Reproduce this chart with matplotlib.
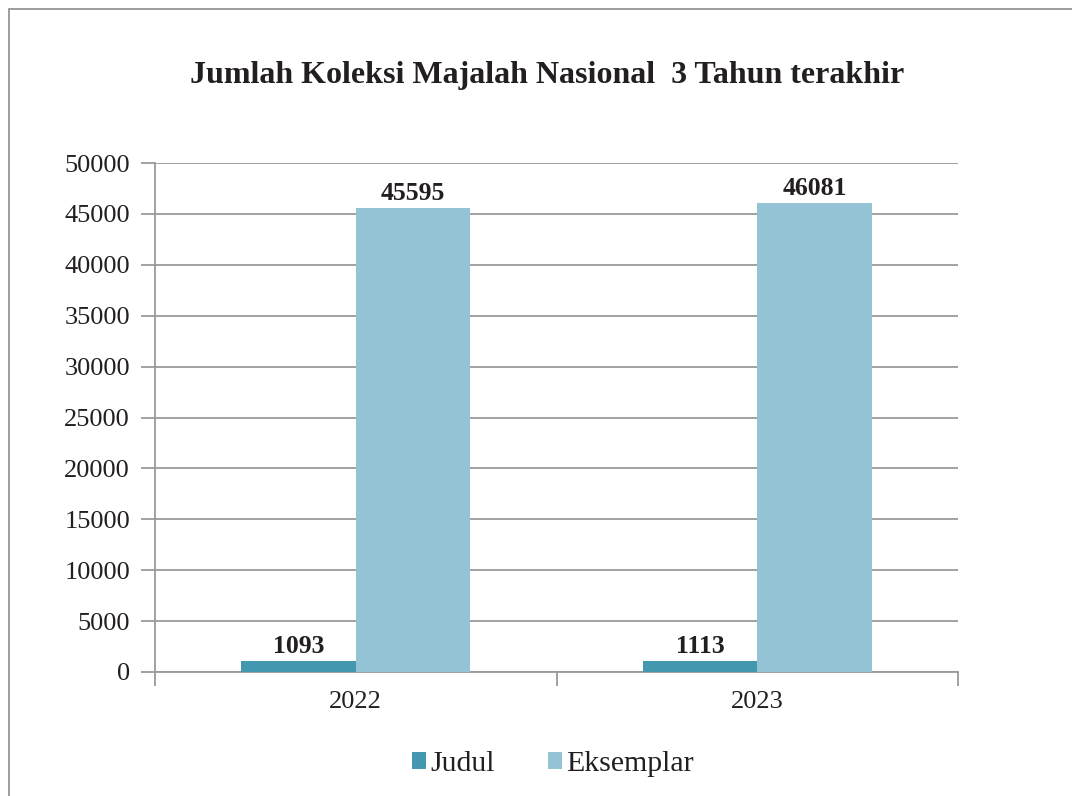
import matplotlib.pyplot as plt
import numpy as np
from matplotlib.patches import Rectangle

years = ['2022', '2023']
judul = [1093, 1113]
eksemplar = [45595, 46081]
y_ticks = [0, 5000, 10000, 15000, 20000, 25000, 30000, 35000, 40000, 45000, 50000]

plt.rcParams['font.family'] = 'Liberation Serif'

fig = plt.figure(figsize=(10.72, 7.96), dpi=100)
ax = fig.add_axes([155 / 1072, 1 - 672 / 796, (958 - 155) / 1072, (672 - 163) / 796])

# outer chart frame (cut at right / bottom like the source)
fig.patches.append(Rectangle((9 / 1072, -0.1), 1.2, 1 - 9 / 796 + 0.1,
                             transform=fig.transFigure, fill=False,
                             edgecolor='#8c8c8c', linewidth=1.2))

x = np.arange(len(years))
w = 0.285
b1 = ax.bar(x - w / 2, judul, w, color='#4398b0', label='Judul', zorder=3)
b2 = ax.bar(x + w / 2, eksemplar, w, color='#93c3d5', label='Eksemplar', zorder=3)

for bars in (b1, b2):
    for r in bars:
        ax.text(r.get_x() + r.get_width() / 2, r.get_height() + 300, str(int(r.get_height())),
                ha='center', va='bottom', fontsize=18.5, fontweight='bold', color='#231f20')

ax.set_xlim(-0.5, 1.5)
ax.set_ylim(0, 50000)
ax.set_yticks(y_ticks)
ax.set_yticklabels([str(v) for v in y_ticks])
ax.set_xticks(x)
ax.set_xticklabels(years)
ax.set_xticks([-0.5, 0.5, 1.5], minor=True)

ax.grid(axis='y', color='#9a9a9a', linewidth=1.3, zorder=0)
for s in ('top', 'right'):
    ax.spines[s].set_visible(False)
for s in ('left', 'bottom'):
    ax.spines[s].set_color('#9a9a9a')
    ax.spines[s].set_linewidth(1.3)

ax.tick_params(axis='y', length=10, width=1.3, color='#9a9a9a', labelsize=19,
               labelcolor='#231f20', pad=8)
ax.tick_params(axis='x', which='major', length=0, labelsize=19, labelcolor='#231f20', pad=14)
ax.tick_params(axis='x', which='minor', length=10, width=1.3, color='#9a9a9a')

fig.text(547 / 1072, 1 - 76 / 796, 'Jumlah Koleksi Majalah Nasional  3 Tahun terakhir',
         ha='center', va='center', fontsize=23, fontweight='bold', color='#231f20')

fig.legend(loc='center', bbox_to_anchor=(553 / 1072, 1 - 764 / 796), ncol=2, frameon=False,
           fontsize=21.5, handlelength=0.48, handleheight=0.48, handletextpad=0.15,
           columnspacing=1.75, labelcolor='#231f20')

fig.savefig('out.png', dpi=100, facecolor='white')
